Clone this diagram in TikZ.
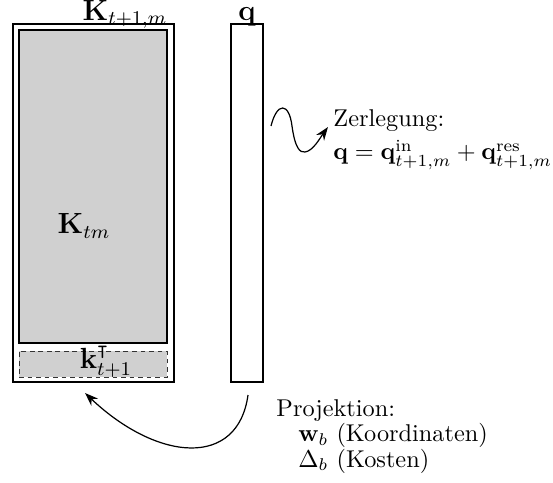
\documentclass[tikz,border=0pt]{standalone}
\usepackage{amsmath,amssymb}
\usetikzlibrary{arrows.meta}
\definecolor{fillgray}{RGB}{208,208,208}
\begin{document}
\begin{tikzpicture}[x=0.4115pt,y=-0.4115pt,
  outerbox/.style={draw,line width=1.2pt,minimum width=66.25pt,minimum height=147.3pt,inner sep=0pt},
  innerbox/.style={draw,fill=fillgray,line width=0.55pt,inner sep=0pt},
  dashbox/.style={draw=black!80,fill=fillgray,line width=0.4pt,dash pattern=on 2pt off 1.5pt,inner sep=0pt},
  qbox/.style={draw,line width=0.75pt,minimum width=13.2pt,minimum height=147.3pt,inner sep=0pt},
  lab/.style={inner sep=0pt,font=\large},
  txt/.style={inner sep=0pt,anchor=base west},
  conn/.style={line width=0.5pt,-{Stealth[length=5.5pt,width=4pt]}}]
\useasboundingbox (0,0) rectangle (553,483);
\node[outerbox] (K) at (93.5,203) {};
\node[innerbox,minimum width=60.9pt,minimum height=128.8pt] (Ki) at (93,186.5) {};
\node[dashbox,minimum width=60.9pt,minimum height=10.7pt] (kr) at (93,364) {};
\node[qbox] (q) at (247,203) {};
\node[lab,anchor=base] (Klab) at (125,20.5) {$\mathbf{K}_{t+1,m}$};
\node[lab,anchor=base] (qlab) at (247,20.5) {$\mathbf{q}$};
\node[lab] (Ktm) at (84,226) {$\mathbf{K}_{tm}$};
\node[lab] (klab) at (106,362) {$\mathbf{k}_{t+1}^{\intercal}$};
\node[txt] (zer) at (333,127) {Zerlegung:};
\node[txt] (form) at (333,160) {$\mathbf{q}=\mathbf{q}^{\text{in}}_{t+1,m}+\mathbf{q}^{\text{res}}_{t+1,m}$};
\node[txt] (proj) at (276,416) {Projektion:};
\node[txt] (wb) at (298,442) {$\mathbf{w}_b$ (Koordinaten)};
\node[txt] (db) at (298,467) {$\Delta_b$ (Kosten)};
\coordinate (zs) at (271,126);
\coordinate (ze) at (328,127);
\coordinate (ps) at (248,395);
\coordinate (pe) at (85,393);
\draw[conn] (zs) .. controls (277,102) and (289,102) .. (292,126) .. controls (295,148) and (300,153) .. (305,152) .. controls (313,151) and (320,138) .. (ze);
\draw[conn] (ps) .. controls (238,468) and (158,462) .. (pe);
\end{tikzpicture}
\end{document}
